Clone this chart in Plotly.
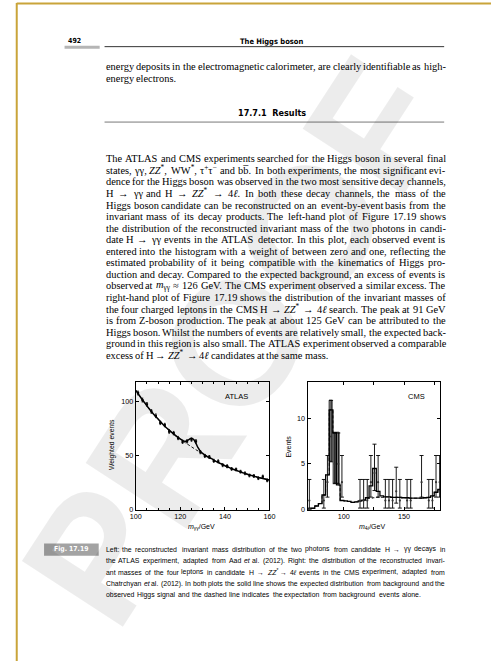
import re
import plotly.graph_objects as go

W, H = 497, 666
def X(p): return p / W
def Y(p): return 1 - p / H

# ---------------- ATLAS data (H -> gamma gamma) ----------------
atlas_mass = [101, 103, 105, 107, 109, 111, 113, 115, 117, 119, 121, 123, 125, 127, 129,
              131, 133, 135, 137, 139, 141, 143, 145, 147, 149, 151, 153, 155, 157, 159]
atlas_events = [107.5, 101, 97, 90.5, 86.5, 80, 78, 72, 70.5, 66, 62.5, 63, 64.5, 63, 53,
                49.5, 48.5, 45, 44.5, 41, 40, 37.5, 37, 35, 33.5, 31.5, 31, 29, 30.5, 27]
atlas_err = [1.8, 1.8, 1.7, 1.7, 1.7, 1.6, 1.6, 1.6, 1.6, 1.5, 1.5, 1.5, 1.5, 1.5, 1.5,
             1.4, 1.4, 1.4, 1.4, 1.4, 1.4, 1.3, 1.3, 1.3, 1.3, 1.3, 1.3, 1.3, 1.3, 1.3]
atlas_curve_mass = [100, 102, 104, 106, 108, 110, 112, 114, 116, 118, 119, 120, 121, 122, 123,
                    124, 125, 126, 127, 128, 129, 130, 131, 132, 134, 136, 138, 140, 142, 144,
                    146, 148, 150, 152, 154, 156, 158, 160]
atlas_bg = [110, 104, 98.5, 93, 88, 83.5, 79, 75, 71.5, 68, 66.5, 65, 63.5, 62, 60.5,
            59, 57.7, 56.5, 55.2, 54, 52.7, 51.5, 50.2, 49, 47, 44.5, 42.5, 40.5, 38.7, 37,
            35.5, 34, 32.6, 31.4, 30.3, 29.2, 28.2, 27.3]
atlas_sig_bg = [110, 104, 98.5, 93, 88, 83.5, 79, 75, 71.5, 68, 66.5, 65.05, 63.8, 63.0, 63.4,
                64.8, 65.8, 64.6, 61.0, 56.9, 53.7, 51.8, 50.3, 49, 47, 44.5, 42.5, 40.5, 38.7, 37,
                35.5, 34, 32.6, 31.4, 30.3, 29.2, 28.2, 27.3]

# ---------------- CMS data (H -> ZZ* -> 4l), 3 GeV bins ----------------
cms_mass = [71.5, 74.5, 77.5, 80.5, 83.5, 86.5, 89.5, 92.5, 95.5, 98.5, 101.5, 104.5, 107.5,
            110.5, 113.5, 116.5, 119.5, 122.5, 125.5, 128.5, 131.5, 134.5, 137.5, 140.5, 143.5,
            146.5, 149.5, 152.5, 155.5, 158.5, 161.5, 164.5, 167.5, 170.5, 173.5, 176.5, 179.5]
cms_sig_bg = [0.05, 0.15, 0.4, 0.65, 1.6, 3.8, 10.9, 8.4, 2.7, 1.0, 0.95, 0.9, 0.8,
              0.85, 0.95, 1.05, 1.3, 2.6, 4.5, 2.0, 1.5, 1.4, 1.4, 1.35, 1.35,
              1.35, 1.3, 1.3, 1.25, 1.25, 1.25, 1.25, 1.3, 1.35, 1.5, 1.9, 2.2]
cms_bg = [0.05, 0.15, 0.4, 0.65, 1.6, 3.8, 10.9, 8.4, 2.7, 1.0, 0.95, 0.9, 0.8,
          0.85, 0.95, 1.05, 1.2, 1.25, 1.3, 1.35, 1.35, 1.4, 1.4, 1.35, 1.35,
          1.35, 1.3, 1.3, 1.25, 1.25, 1.25, 1.25, 1.3, 1.35, 1.5, 1.9, 2.2]
cms_data = [1, 0, 0, 0, 1, 3, 8, 5, 5, 3, 0, 0, 0,
            0, 1, 1, 1, 3, 4, 3, 0, 1, 1, 1, 2,
            1, 0, 1, 1, 0, 0, 3, 0, 1, 1, 3, 3]
# Poisson 68% (Garwood) interval bounds for n = 0..8
poisson_lo = [0.0, 0.17, 0.71, 1.37, 2.09, 2.84, 3.62, 4.42, 5.23]
poisson_hi = [1.84, 3.30, 4.64, 5.92, 7.16, 8.38, 9.58, 10.77, 11.95]
cms_bin_width = 3

fig = go.Figure()

# ATLAS curves and points
fig.add_trace(go.Scatter(x=atlas_curve_mass, y=atlas_bg, mode="lines",
                         line=dict(color="black", width=0.9, dash="3px,2px"),
                         xaxis="x", yaxis="y", showlegend=False))
fig.add_trace(go.Scatter(x=atlas_curve_mass, y=atlas_sig_bg, mode="lines",
                         line=dict(color="black", width=1.5, shape="spline"),
                         xaxis="x", yaxis="y", showlegend=False))
fig.add_trace(go.Scatter(x=atlas_mass, y=atlas_events, mode="markers",
                         marker=dict(symbol="square", size=2.3, color="black"),
                         error_y=dict(type="data", array=atlas_err, width=0.8, thickness=0.8, color="black"),
                         xaxis="x", yaxis="y", showlegend=False))

# CMS histograms (step lines along bin edges)
half = cms_bin_width / 2
edges = [m - half for m in cms_mass] + [cms_mass[-1] + half]
fig.add_trace(go.Scatter(x=edges, y=cms_bg + [cms_bg[-1]], mode="lines",
                         line=dict(color="black", width=0.9, dash="3px,2px", shape="hv"),
                         xaxis="x2", yaxis="y2", showlegend=False))
fig.add_trace(go.Scatter(x=edges, y=cms_sig_bg + [cms_sig_bg[-1]], mode="lines",
                         line=dict(color="black", width=1.3, shape="hv"),
                         xaxis="x2", yaxis="y2", showlegend=False))

# CMS data with Poisson error bars (non-empty bins)
dm, dn, eup, edn = [], [], [], []
for m, n in zip(cms_mass, cms_data):
    if n > 0:
        dm.append(m); dn.append(n)
        eup.append(poisson_hi[n] - n); edn.append(n - poisson_lo[n])
big = [i for i, n in enumerate(dn) if n >= 5]
fig.add_trace(go.Bar(x=[dm[i] for i in big], base=[dn[i] - edn[i] for i in big],
                     y=[eup[i] + edn[i] for i in big], width=2.7,
                     marker=dict(color="#ababab", line=dict(color="black", width=0.8)),
                     xaxis="x2", yaxis="y2", showlegend=False))
fig.add_trace(go.Scatter(x=dm, y=dn, mode="markers",
                         marker=dict(symbol="circle", size=2.2, color="#333"),
                         error_y=dict(type="data", symmetric=False, array=eup, arrayminus=edn,
                                      width=2, thickness=0.9, color="black"),
                         xaxis="x2", yaxis="y2", showlegend=False))

sans = "Liberation Sans, Arial, sans-serif"
serif = "Liberation Serif, Times New Roman, serif"
cond = "DejaVu Sans Condensed"

tickfont = dict(family=sans, size=7.2, color="black")
axis_common = dict(showline=True, linecolor="black", linewidth=1, mirror="ticks",
                   ticks="inside", ticklen=3, tickwidth=0.8, tickcolor="black",
                   showgrid=False, zeroline=False, tickfont=tickfont)

fig.update_layout(
    width=W, height=H, margin=dict(l=0, r=0, t=0, b=0),
    paper_bgcolor="white", plot_bgcolor="rgba(0,0,0,0)", bargap=0,
    xaxis=dict(domain=[X(133), X(270)], range=[100, 160], anchor="y",
               tickvals=[100, 120, 140, 160],
               minor=dict(ticks="inside", dtick=5, tick0=100, ticklen=2, tickcolor="black"),
               **axis_common),
    yaxis=dict(domain=[Y(513.5), Y(384.5)], range=[0, 118], anchor="x",
               tickvals=[0, 50, 100], **axis_common),
    xaxis2=dict(domain=[X(309), X(445)], range=[70, 180], anchor="y2",
                tickvals=[100, 150],
                minor=dict(ticks="inside", tickvals=[125, 175], ticklen=3, tickcolor="black"),
                **axis_common),
    yaxis2=dict(domain=[Y(513.5), Y(384.5)], range=[0, 14.0], anchor="x2",
                tickvals=[0, 5, 10], **axis_common),
)

ann = []
def text(x, y, s, size, family, color="black", xanchor="left", angle=0):
    ann.append(dict(x=X(x), y=Y(y), xref="paper", yref="paper", text=s, showarrow=False,
                    xanchor=xanchor, yanchor="middle", textangle=angle, borderpad=0,
                    font=dict(size=size, family=family, color=color)))

# --- approximate glyph advance widths (per 1000 em) for justification ---
times_w = {" ": 250, ",": 250, ".": 250, "-": 333, "(": 333, ")": 333, ":": 278, ";": 278,
           "*": 500, "+": 564, "−": 564, "≈": 549, "→": 1000, "γ": 430, "τ": 440, "ℓ": 420,
           "\u0305": 0}
for c, v in zip("abcdefghijklmnopqrstuvwxyz",
                [444, 500, 444, 500, 444, 333, 500, 500, 278, 278, 500, 278, 778, 500, 500, 500,
                 500, 333, 389, 278, 500, 500, 722, 500, 500, 444]):
    times_w[c] = v
for c, v in zip("ABCDEFGHIJKLMNOPQRSTUVWXYZ",
                [722, 667, 667, 722, 611, 556, 722, 722, 333, 389, 722, 611, 889, 722, 722, 556,
                 722, 667, 556, 611, 722, 722, 944, 722, 722, 611]):
    times_w[c] = v
for c in "0123456789":
    times_w[c] = 500

arial_w = {" ": 278, ",": 278, ".": 278, "-": 333, "(": 333, ")": 333, ":": 278, ";": 278,
           "*": 389, "+": 584, "−": 584, "→": 1000, "γ": 520, "ℓ": 450, "\u0305": 0}
for c, v in zip("abcdefghijklmnopqrstuvwxyz",
                [556, 556, 500, 556, 556, 278, 556, 556, 222, 222, 500, 222, 833, 556, 556, 556,
                 556, 333, 500, 278, 556, 500, 722, 500, 500, 500]):
    arial_w[c] = v
for c, v in zip("ABCDEFGHIJKLMNOPQRSTUVWXYZ",
                [667, 667, 722, 722, 667, 611, 778, 722, 278, 500, 667, 556, 833, 722, 778, 667,
                 778, 722, 667, 611, 722, 667, 944, 667, 667, 611]):
    arial_w[c] = v
for c in "0123456789":
    arial_w[c] = 556
# small sizes render a little wider than nominal metrics
arial_w = {k: v * 1.06 for k, v in arial_w.items()}

def word_width(word, table):
    w, scale = 0.0, 1.0
    for tok in re.split(r"(<[^>]+>)", word):
        if tok.startswith("<"):
            t = tok.lower()
            if t in ("<sup>", "<sub>"):
                scale = 0.7
            elif t in ("</sup>", "</sub>"):
                scale = 1.0
            continue
        for ch in tok:
            w += table.get(ch, 500) * scale
    return w / 1000.0

LEFT, RIGHT = 101, 449

def justify(line, y, size, family, table, last=False):
    words = line.split(" ")
    widths = [word_width(w, table) * size for w in words]
    if last or len(words) == 1:
        gap = table[" "] / 1000.0 * size
    else:
        gap = (RIGHT - LEFT - sum(widths)) / (len(words) - 1)
    x = LEFT
    for w, wd in zip(words, widths):
        text(x, y, w, size, family)
        x += wd + gap

# header
text(70, 41.5, "<b>492</b>", 7, cond, xanchor="center")
text(272, 41.5, "<b>The Higgs boson</b>", 7.5, cond, xanchor="center")

top_lines = [
    "energy deposits in the electromagnetic calorimeter, are clearly identifiable as high-",
    "energy electrons.",
]
body_lines = [
    "The ATLAS and CMS experiments searched for the Higgs boson in several final",
    "states, γγ, <i>ZZ</i><sup>*</sup>, WW<sup>*</sup>, τ<sup>+</sup>τ<sup>−</sup> and bb\u0305. In both experiments, the most significant evi-",
    "dence for the Higgs boson was observed in the two most sensitive decay channels,",
    "H → γγ and H → <i>ZZ</i><sup>*</sup> → 4<i>ℓ</i>. In both these decay channels, the mass of the",
    "Higgs boson candidate can be reconstructed on an event-by-event basis from the",
    "invariant mass of its decay products. The left-hand plot of Figure 17.19 shows",
    "the distribution of the reconstructed invariant mass of the two photons in candi-",
    "date H → γγ events in the ATLAS detector. In this plot, each observed event is",
    "entered into the histogram with a weight of between zero and one, reflecting the",
    "estimated probability of it being compatible with the kinematics of Higgs pro-",
    "duction and decay. Compared to the expected background, an excess of events is",
    "observed at <i>m</i><sub>γγ</sub> ≈ 126 GeV. The CMS experiment observed a similar excess. The",
    "right-hand plot of Figure 17.19 shows the distribution of the invariant masses of",
    "the four charged leptons in the CMS H → <i>ZZ</i><sup>*</sup> → 4<i>ℓ</i> search. The peak at 91 GeV",
    "is from Z-boson production. The peak at about 125 GeV can be attributed to the",
    "Higgs boson. Whilst the numbers of events are relatively small, the expected back-",
    "ground in this region is also small. The ATLAS experiment observed a comparable",
    "excess of H → <i>ZZ</i><sup>*</sup> → 4<i>ℓ</i> candidates at the same mass.",
]
caption_lines = [
    "Left: the reconstructed invariant mass distribution of the two photons from candidate H → γγ decays in",
    "the ATLAS experiment, adapted from Aad <i>et al.</i> (2012). Right: the distribution of the reconstructed invari-",
    "ant masses of the four leptons in candidate H → <i>ZZ</i><sup>*</sup> → 4<i>ℓ</i> events in the CMS experiment, adapted from",
    "Chatrchyan <i>et al.</i> (2012). In both plots the solid line shows the expected distribution from background and the",
    "observed Higgs signal and the dashed line indicates the expectation from background events alone.",
]

body_size = 10.4
for i, s in enumerate(top_lines):
    justify(s, 67.5 + i * 11.65, body_size, serif, times_w, last=(i == len(top_lines) - 1))
text(273, 113.5, "<b>17.7.1  Results</b>", 9, cond, xanchor="center")
for i, s in enumerate(body_lines):
    justify(s, 160 + i * 11.65, body_size, serif, times_w, last=(i == len(body_lines) - 1))

# caption size chosen so that the longest line fits the text block
unit = max(sum(word_width(w, arial_w) for w in s.split(" ")) + 0.25 * (len(s.split(" ")) - 1)
           for s in caption_lines)
cap_size = min(7.6, (RIGHT - LEFT) / unit)
for i, s in enumerate(caption_lines):
    justify(s, 553.5 + i * 11.5, cap_size, sans, arial_w, last=(i == len(caption_lines) - 1))
text(67, 553.5, "<b>Fig. 17.19</b>", 6.8, cond, color="white", xanchor="center")

# plot labels
text(236, 399, "ATLAS", 7.5, sans, xanchor="center")
text(421, 399, "CMS", 7.5, sans, xanchor="center")
text(108, 448, "Weighted events", 6.8, sans, xanchor="center", angle=-90)
text(290, 450, "Events", 7, sans, xanchor="center", angle=-90)
text(200, 531, "<i>m</i><sub>γγ</sub>/GeV", 7, sans, xanchor="center")
text(375, 531, "<i>m</i><sub>4<i>ℓ</i></sub>/GeV", 7, sans, xanchor="center")

# watermark
ann.append(dict(x=X(235), y=Y(345), xref="paper", yref="paper", text="<b>PROOF</b>", showarrow=False,
                textangle=-57, font=dict(size=175, family=sans, color="rgba(0,0,0,0.075)")))

fig.update_layout(annotations=ann)

shapes = [
    dict(type="line", xref="paper", yref="paper", x0=X(11), x1=X(497), y0=Y(3.5), y1=Y(3.5),
         line=dict(color="#c9a43a", width=2)),
    dict(type="line", xref="paper", yref="paper", x0=X(11), x1=X(11), y0=Y(3), y1=Y(666),
         line=dict(color="#c9a43a", width=2)),
    dict(type="line", xref="paper", yref="paper", x0=X(101), x1=X(449), y0=Y(47), y1=Y(47),
         line=dict(color="black", width=0.8)),
    dict(type="rect", xref="paper", yref="paper", x0=X(60), x1=X(96), y0=Y(49), y1=Y(46),
         line=dict(width=0), fillcolor="#b5b5b5"),
    dict(type="line", xref="paper", yref="paper", x0=X(101), x1=X(449), y0=Y(123), y1=Y(123),
         line=dict(color="#555", width=0.8)),
    dict(type="rect", xref="paper", yref="paper", x0=X(39), x1=X(95), y0=Y(560), y1=Y(547.5),
         line=dict(width=0), fillcolor="#a3a3a3", layer="below"),
]
fig.update_layout(shapes=shapes)

fig.write_html("out.html")
